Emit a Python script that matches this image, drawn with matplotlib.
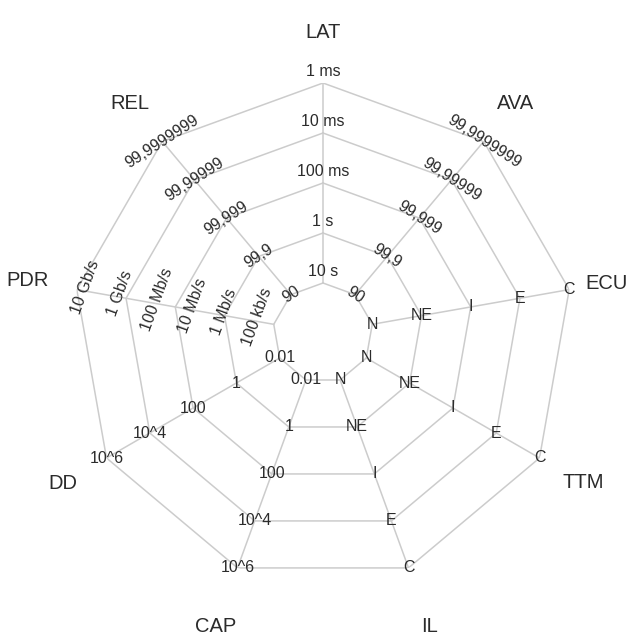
import numpy as np
import matplotlib
matplotlib.use('Agg')
import matplotlib.pyplot as plt

# axes of the radar, clockwise from the top
axis_names = ['LAT', 'AVA', 'ECU', 'TTM', 'IL', 'CAP', 'DD', 'PDR', 'REL']
levels = [1, 2, 3, 4, 5]

# tick labels per axis, innermost ring first
lat_ticks = ['10 s', '1 s', '100 ms', '10 ms', '1 ms']
ava_ticks = ['90', '99,9', '99,999', '99,99999', '99,9999999']
ecu_ticks = ['N', 'NE', 'I', 'E', 'C']
ttm_ticks = ['N', 'NE', 'I', 'E', 'C']
il_ticks = ['N', 'NE', 'I', 'E', 'C']
cap_ticks = ['0.01', '1', '100', '10^4', '10^6']
dd_ticks = ['0.01', '1', '100', '10^4', '10^6']
pdr_ticks = ['100 kb/s', '1 Mb/s', '10 Mb/s', '100 Mb/s', '1 Gb/s', '10 Gb/s']
pdr_levels = [1.34, 2.01, 2.64, 3.37, 4.12, 4.83]
rel_ticks = ['90', '99,9', '99,999', '99,99999', '99,9999999']

GRID = '#cccccc'
TEXT = '#2b2b2b'
plt.rcParams['font.family'] = ['Liberation Sans', 'DejaVu Sans']


def main():
    fig = plt.figure(figsize=(6.33, 6.43), dpi=100)
    ax = fig.add_axes([73 / 633, 60 / 643, 500 / 633, 500 / 643], projection='polar')
    ax.set_theta_offset(np.pi / 2)
    ax.set_theta_direction(-1)
    ax.set_ylim(0, 5)
    ax.grid(False)
    ax.set_xticks([])
    ax.set_yticks([])
    ax.spines['polar'].set_visible(False)
    ax.patch.set_alpha(0)

    n = len(axis_names)
    angles = np.linspace(0, 2 * np.pi, n, endpoint=False)
    closed = np.append(angles, angles[0])

    # rings
    for lv in levels:
        ax.plot(closed, [lv] * (n + 1), color=GRID, lw=1.1)
    # spokes
    for a in angles:
        ax.plot([a, a], [levels[0], levels[-1]], color=GRID, lw=1.1)

    # tick labels: (labels, positions, rotation, offset in points)
    specs = [
        (lat_ticks, levels, 0, (0, 8)),
        (ava_ticks, levels, -33, (0, 0)),
        (ecu_ticks, levels, 0, (0, 0)),
        (ttm_ticks, levels, 0, (0, 0)),
        (il_ticks, levels, 0, (0, 0)),
        (cap_ticks, levels, 0, (0, 0)),
        (dd_ticks, levels, 0, (0, 0)),
        (pdr_ticks, pdr_levels, 70, (0, 3)),
        (rel_ticks, levels, 33, (0, 0)),
    ]
    for a, (labels, pos, rot, off) in zip(angles, specs):
        for lab, r in zip(labels, pos):
            ax.annotate(lab, xy=(a, r), xytext=off, textcoords='offset points',
                        ha='center', va='center', rotation=rot,
                        rotation_mode='anchor', fontsize=11.5, color=TEXT,
                        annotation_clip=False)

    # axis names
    name_r = {'ECU': 5.75, 'IL': 6.25, 'CAP': 6.25}
    for a, name in zip(angles, axis_names):
        ax.text(a, name_r.get(name, 6.0), name, ha='center', va='center',
                fontsize=14.5, color=TEXT)

    fig.savefig('out.png', dpi=100)


if __name__ == '__main__':
    main()
